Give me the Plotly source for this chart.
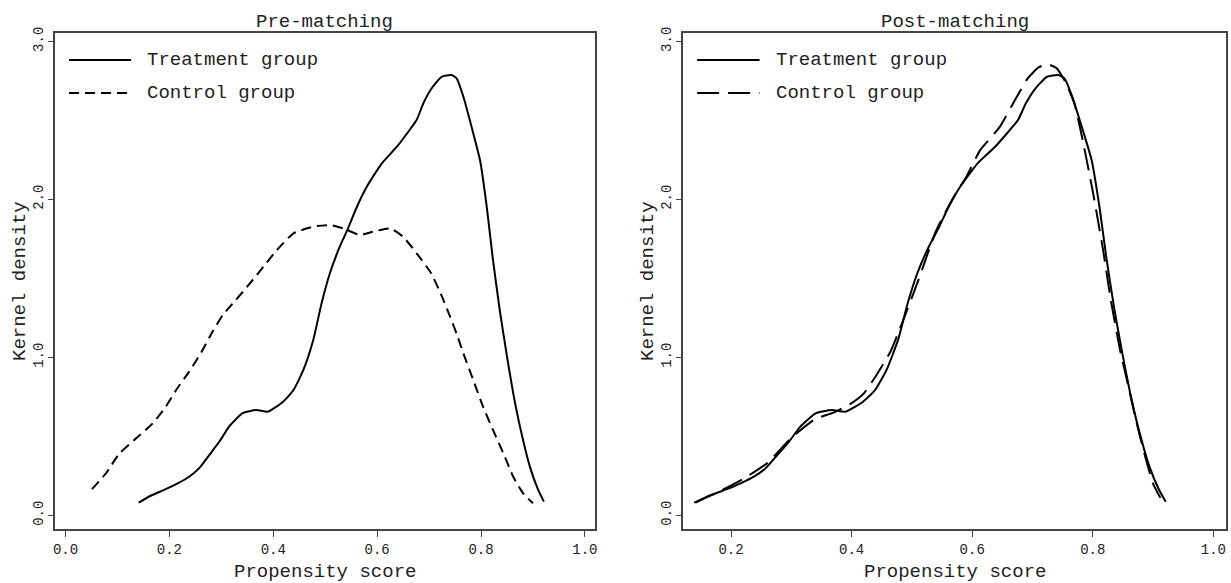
import plotly.graph_objects as go

# ---------------- data ----------------
treat_x = [0.141, 0.165, 0.193, 0.215, 0.238, 0.258, 0.277, 0.297, 0.315, 0.341,
           0.367, 0.390, 0.419, 0.439, 0.458, 0.477, 0.493, 0.509, 0.528, 0.544,
           0.561, 0.580, 0.609, 0.638, 0.660, 0.676, 0.689, 0.705, 0.724, 0.743,
           0.753, 0.766, 0.785, 0.798, 0.811, 0.823, 0.836, 0.849, 0.862, 0.875,
           0.894, 0.910, 0.921]
treat_y = [0.080, 0.125, 0.165, 0.200, 0.244, 0.300, 0.382, 0.470, 0.561, 0.646,
           0.666, 0.656, 0.719, 0.793, 0.920, 1.110, 1.342, 1.532, 1.700, 1.816,
           1.953, 2.080, 2.228, 2.333, 2.428, 2.502, 2.608, 2.703, 2.776, 2.787,
           2.766, 2.649, 2.418, 2.249, 1.953, 1.616, 1.299, 1.025, 0.772, 0.561,
           0.308, 0.160, 0.086]

pre_ctrl_x = [0.051, 0.078, 0.104, 0.136, 0.168, 0.193, 0.213, 0.238, 0.264, 0.283,
              0.303, 0.328, 0.355, 0.381, 0.407, 0.439, 0.477, 0.509, 0.535, 0.567,
              0.592, 0.625, 0.650, 0.676, 0.704, 0.724, 0.740, 0.754, 0.766, 0.785,
              0.804, 0.823, 0.843, 0.862, 0.881, 0.900]
pre_ctrl_y = [0.165, 0.266, 0.392, 0.487, 0.582, 0.687, 0.793, 0.909, 1.046, 1.162,
              1.268, 1.363, 1.468, 1.573, 1.679, 1.785, 1.827, 1.837, 1.816, 1.774,
              1.795, 1.816, 1.763, 1.658, 1.532, 1.390, 1.260, 1.140, 1.025, 0.856,
              0.687, 0.540, 0.392, 0.244, 0.139, 0.076]

post_ctrl_x = [0.139, 0.180, 0.220, 0.260, 0.300, 0.340, 0.370, 0.400, 0.420, 0.440,
               0.465, 0.484, 0.510, 0.540, 0.570, 0.590, 0.613, 0.646, 0.674, 0.693,
               0.710, 0.725, 0.740, 0.755, 0.770, 0.784, 0.800, 0.817, 0.830, 0.845,
               0.860, 0.873, 0.887, 0.900, 0.912]
post_ctrl_y = [0.080, 0.150, 0.230, 0.330, 0.490, 0.610, 0.650, 0.710, 0.770, 0.880,
               1.040, 1.220, 1.480, 1.800, 2.020, 2.140, 2.310, 2.460, 2.650, 2.770,
               2.835, 2.855, 2.830, 2.740, 2.600, 2.360, 2.050, 1.680, 1.360, 1.050,
               0.800, 0.580, 0.370, 0.200, 0.110]

panel_titles = ["Pre-matching", "Post-matching"]
legend_labels = ["Treatment group", "Control group"]
x_title = "Propensity score"
y_title = "Kernel density"
x_ticks_left = [0.0, 0.2, 0.4, 0.6, 0.8, 1.0]
x_ticks_right = [0.2, 0.4, 0.6, 0.8, 1.0]
y_ticks = [0.0, 1.0, 2.0, 3.0]

# ---------------- styling ----------------
FONT = "Liberation Mono"
AX = "#444444"
TXT = "#222222"
solid = dict(color="black", width=2, shape="spline", smoothing=0.5)
short_dash = dict(color="black", width=2, dash="10px,6px", shape="spline", smoothing=0.5)
long_dash = dict(color="black", width=2, dash="22px,9px", shape="spline", smoothing=0.5)

fig = go.Figure()
fig.add_trace(go.Scatter(x=treat_x, y=treat_y, mode="lines", line=solid,
                         name=legend_labels[0], xaxis="x", yaxis="y", showlegend=False))
fig.add_trace(go.Scatter(x=pre_ctrl_x, y=pre_ctrl_y, mode="lines", line=short_dash,
                         name=legend_labels[1], xaxis="x", yaxis="y", showlegend=False))
fig.add_trace(go.Scatter(x=treat_x, y=treat_y, mode="lines", line=solid,
                         name=legend_labels[0], xaxis="x2", yaxis="y2", showlegend=False))
fig.add_trace(go.Scatter(x=post_ctrl_x, y=post_ctrl_y, mode="lines", line=long_dash,
                         name=legend_labels[1], xaxis="x2", yaxis="y2", showlegend=False))

common_x = dict(showline=True, mirror=True, linecolor=AX, linewidth=1.5,
                ticks="outside", ticklen=6, tickcolor=AX, tickwidth=1,
                showgrid=False, zeroline=False, tickformat=".1f", automargin=False,
                tickfont=dict(family=FONT, size=14, color=TXT))
common_y = dict(showline=True, mirror=True, linecolor=AX, linewidth=1.5,
                ticks="outside", ticklen=5, tickcolor=AX, tickwidth=1,
                showgrid=False, zeroline=False, tickformat=".1f", tickangle=-90,
                tickvals=y_ticks, range=[-0.087, 3.053], automargin=False,
                tickfont=dict(family=FONT, size=14, color=TXT))

fig.update_layout(
    width=1231, height=583,
    margin=dict(l=55, r=5, t=33, b=54, autoexpand=False),
    paper_bgcolor="white", plot_bgcolor="white",
    xaxis=dict(common_x, domain=[0, 0.4611], range=[-0.0202, 1.0193],
               tickvals=x_ticks_left, anchor="y"),
    yaxis=dict(common_y, domain=[0, 1], anchor="x"),
    xaxis2=dict(common_x, domain=[0.5363, 1], range=[0.1204, 1.0209],
                tickvals=x_ticks_right, anchor="y2"),
    yaxis2=dict(common_y, domain=[0, 1], anchor="x2"),
)

annotations = []
shapes = []
for i, (xa, ya) in enumerate([("x", "y"), ("x2", "y2")]):
    # panel title
    annotations.append(dict(text=panel_titles[i], xref=f"{xa} domain", yref=f"{ya} domain",
                            x=0.5, y=1, xanchor="center", yanchor="bottom", yshift=-2,
                            showarrow=False, font=dict(family=FONT, size=19, color=TXT)))
    # x-axis title
    annotations.append(dict(text=x_title, xref=f"{xa} domain", yref=f"{ya} domain",
                            x=0.5, y=0, xanchor="center", yanchor="middle", yshift=-43,
                            showarrow=False, font=dict(family=FONT, size=19, color=TXT)))
    # y-axis title
    annotations.append(dict(text=y_title, xref=f"{xa} domain", yref=f"{ya} domain",
                            x=0, y=0.5, xanchor="center", yanchor="middle", xshift=-35,
                            textangle=-90,
                            showarrow=False, font=dict(family=FONT, size=19, color=TXT)))
    # legend (drawn inside the plot area, top-left)
    dash = "10px,6px" if i == 0 else "22px,9px"
    for j, (yy, dsh) in enumerate([(0.9456, "solid"), (0.879, dash)]):
        shapes.append(dict(type="line", xref=f"{xa} domain", yref=f"{ya} domain",
                           x0=0.026, x1=0.141, y0=yy, y1=yy,
                           line=dict(color="black", width=2, dash=dsh)))
        annotations.append(dict(text=legend_labels[j], xref=f"{xa} domain", yref=f"{ya} domain",
                                x=0.167, y=yy, xanchor="left", yanchor="middle",
                                showarrow=False, font=dict(family=FONT, size=19, color=TXT)))
fig.update_layout(annotations=annotations, shapes=shapes)

# remove the page's default body margin / scrollbars so the figure fills the window exactly
fig.write_html("out.html",
               config={"displayModeBar": False},
               post_script="document.body.style.margin='0';document.body.style.overflow='hidden';")
